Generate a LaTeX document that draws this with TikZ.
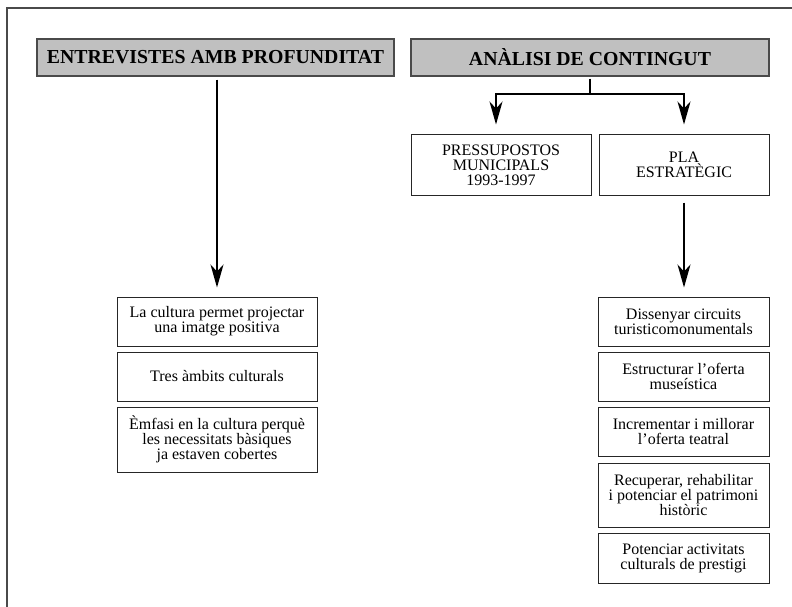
\documentclass[tikz,border=0pt]{standalone}
\usepackage{fontspec}
\setmainfont{Liberation Serif}
\usetikzlibrary{arrows.meta}
\definecolor{headfill}{HTML}{C0C0C0}
\definecolor{framegray}{HTML}{4A4A4A}
\tikzset{
  header/.style={draw=framegray, line width=1.3pt, fill=headfill, inner sep=0pt,
    font=\bfseries\fontsize{19.8}{22}\selectfont},
  itembox/.style={draw=black!85, line width=1pt, fill=white, inner sep=0pt,
    align=center, font=\fontsize{16}{15}\selectfont},
  link/.style={draw=black, line width=1.4pt},
  arr/.style={link, -{Stealth[length=23pt,width=13pt,inset=7pt]}},
}
\begin{document}
\begin{tikzpicture}[x=1pt,y=-1pt]
  \useasboundingbox (0,0) rectangle (792,607);
  % page frame (top and left edges)
  \draw[framegray, line width=1.8pt] (7,607) -- (7,8) -- (792,8);

  % column headers
  \node[header, minimum width=357pt, minimum height=37pt] (hL) at (215.5,57.5) {ENTREVISTES AMB PROFUNDITAT};
  \node[header, minimum width=358pt, minimum height=37pt] (hR) at (590,57.5) {ANÀLISI DE CONTINGUT};

  % content analysis sources
  \node[itembox, minimum width=180pt, minimum height=60pt] (pres) at (501,165) {PRESSUPOSTOS\\MUNICIPALS\\1993-1997};
  \node[itembox, minimum width=170pt, minimum height=60pt] (pla) at (684,165) {PLA\\ESTRATÈGIC};

  % interview findings
  \node[itembox, minimum width=200pt, minimum height=49pt] (l1) at (217,321.5) {La cultura permet projectar\\una imatge positiva};
  \node[itembox, minimum width=200pt, minimum height=49pt] (l2) at (217,376.5) {Tres àmbits culturals};
  \node[itembox, minimum width=200pt, minimum height=65pt] (l3) at (217,439.5) {Èmfasi en la cultura perquè\\les necessitats bàsiques\\ja estaven cobertes};

  % strategic plan lines
  \node[itembox, minimum width=171pt, minimum height=49pt] (r1) at (683.5,321.5) {Dissenyar circuits\\turisticomonumentals};
  \node[itembox, minimum width=171pt, minimum height=49pt] (r2) at (683.5,376.5) {Estructurar l’oferta\\museística};
  \node[itembox, minimum width=171pt, minimum height=49pt] (r3) at (683.5,431.5) {Incrementar i millorar\\l’oferta teatral};
  \node[itembox, minimum width=171pt, minimum height=64pt] (r4) at (683.5,495) {Recuperar, rehabilitar\\i potenciar el patrimoni\\històric};
  \node[itembox, minimum width=171pt, minimum height=50pt] (r5) at (683.5,558) {Potenciar activitats\\culturals de prestigi};

  % connectors
  \draw[arr, shorten <=3pt, shorten >=9pt] ([xshift=1.5pt]hL.south) -- ([xshift=1.5pt]hL.south |- l1.north);
  \coordinate (fork) at (590,94);
  \draw[link, shorten <=2pt] (hR.south) -- (fork);
  \draw[arr, shorten >=10pt] (fork) -| ([xshift=-5pt]pres.north);
  \draw[arr, shorten >=10pt] (fork) -| (pla.north);
  \draw[arr, shorten <=7pt, shorten >=9pt] (pla.south) -- (pla.south |- r1.north);
\end{tikzpicture}
\end{document}
